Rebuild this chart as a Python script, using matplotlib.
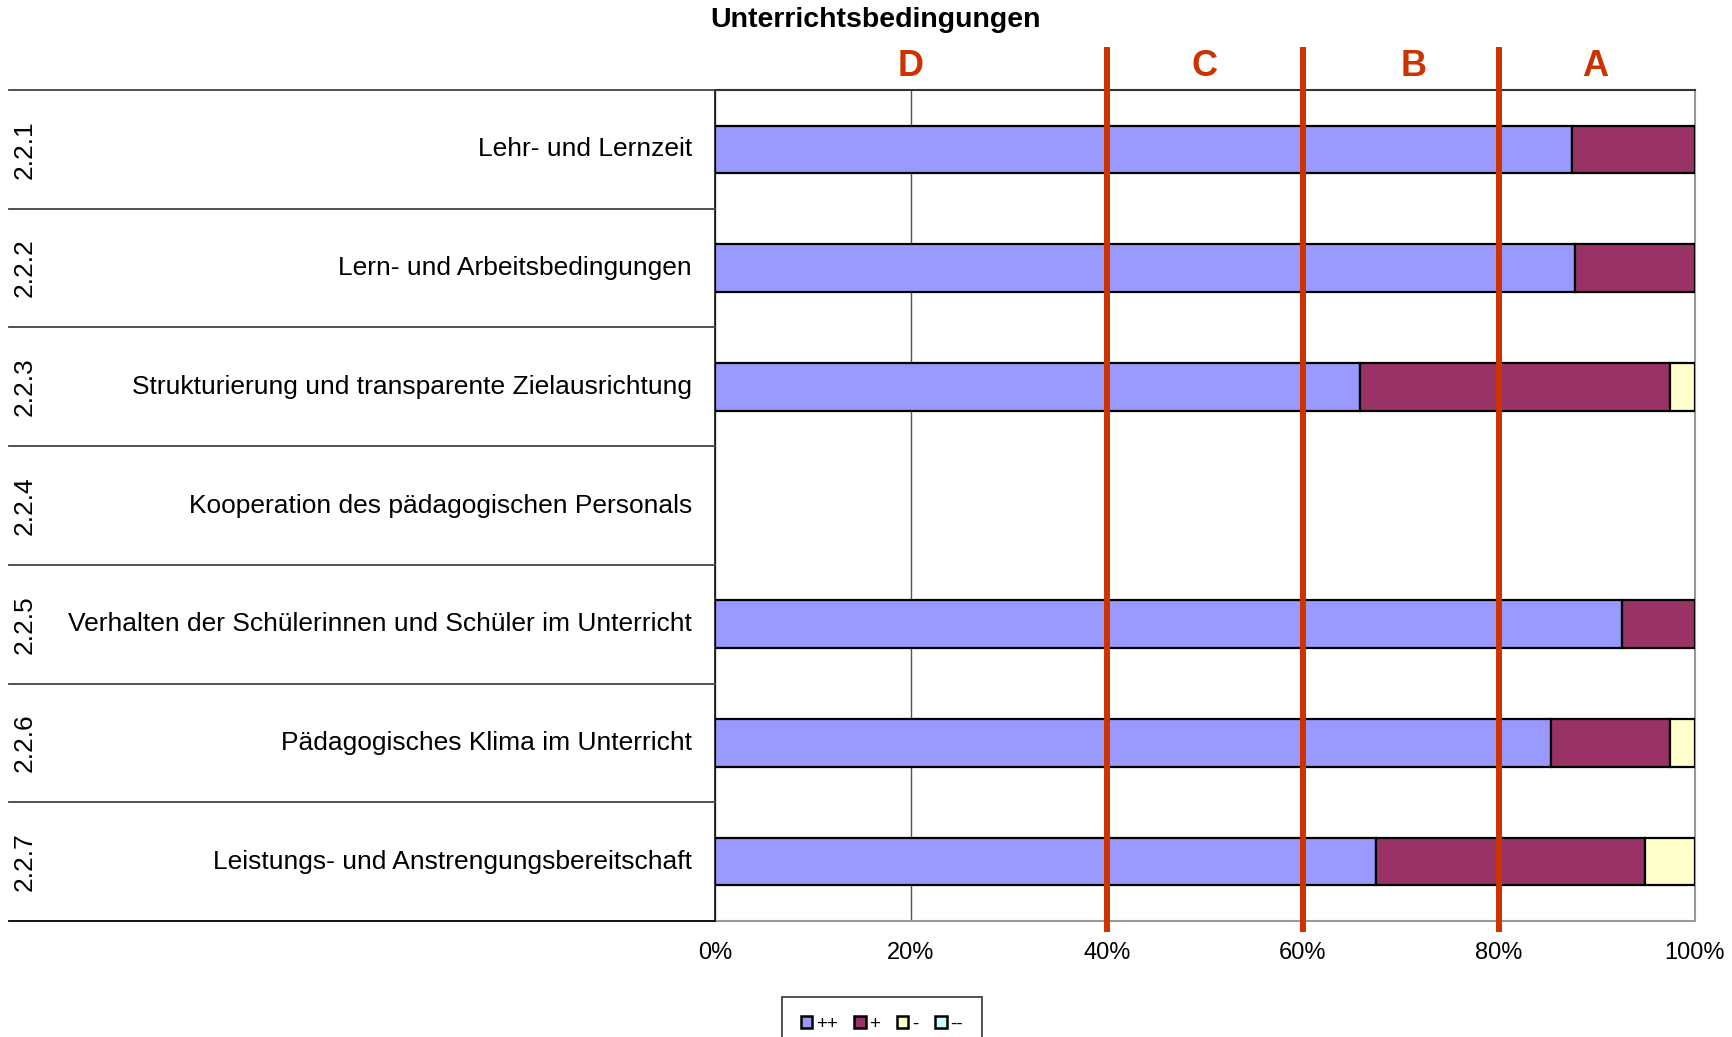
import matplotlib
matplotlib.use("Agg")
import matplotlib.pyplot as plt
import matplotlib.transforms as mtrans
from matplotlib.lines import Line2D
from matplotlib.patches import Patch
import numpy as np

plt.rcParams['font.family'] = ['Liberation Sans', 'DejaVu Sans']

codes = ["2.2.1", "2.2.2", "2.2.3", "2.2.4", "2.2.5", "2.2.6", "2.2.7"]
labels = ["Lehr- und Lernzeit",
          "Lern- und Arbeitsbedingungen",
          "Strukturierung und transparente Zielausrichtung",
          "Kooperation des pädagogischen Personals",
          "Verhalten der Schülerinnen und Schüler im Unterricht",
          "Pädagogisches Klima im Unterricht",
          "Leistungs- und Anstrengungsbereitschaft"]
series_names = ["++", "+", "-", "--"]
v_pp = [87.5, 87.8, 65.8, 0.0, 92.6, 85.3, 67.5]
v_p = [12.5, 12.2, 31.7, 0.0, 7.4, 12.2, 27.4]
v_m = [0.0, 0.0, 2.5, 0.0, 0.0, 2.5, 5.1]
v_mm = [0.0, 0.0, 0.0, 0.0, 0.0, 0.0, 0.0]
colors = ["#9999FF", "#993366", "#FFFFCC", "#CCFFFF"]
ticks = [0, 20, 40, 60, 80, 100]
tick_labels = ["0%", "20%", "40%", "60%", "80%", "100%"]
zone_bounds = [40, 60, 80]
zone_letters = ["D", "C", "B", "A"]
zone_letter_x = [20, 50, 71.3, 89.8]
title = "Unterrichtsbedingungen"

W, H = 1733, 1037
fig = plt.figure(figsize=(W / 100, H / 100), dpi=100)
ax = fig.add_axes([715 / W, 1 - 921 / H, (1695 - 715) / W, (921 - 90) / H])

y = np.arange(len(labels))
left = np.zeros(len(labels))
for vals, c in zip([v_pp, v_p, v_m, v_mm], colors):
    vals = np.array(vals)
    mask = vals > 0
    ax.barh(y[mask], vals[mask], left=left[mask], height=0.4, color=c,
            edgecolor="black", linewidth=1.6, zorder=3)
    left += vals

ax.set_xlim(0, 100)
ax.set_ylim(len(labels) - 0.5, -0.5)
ax.set_xticks(ticks)
ax.set_xticklabels(tick_labels, fontsize=17)
ax.tick_params(axis="x", length=0, pad=15)
ax.set_yticks([])
ax.grid(axis="x", color="#555555", linewidth=1.0, zorder=0)
ax.grid(axis="y", visible=False)
for s in ["bottom", "right"]:
    ax.spines[s].set_color("#999999")
    ax.spines[s].set_linewidth(1.5)
ax.spines["top"].set_color("#333333")
ax.spines["top"].set_linewidth(1.5)
ax.spines["left"].set_color("#111111")
ax.spines["left"].set_linewidth(1.2)

# table-like left part
tr = mtrans.blended_transform_factory(fig.transFigure, ax.transData)
x0 = 9 / W
x1 = 715 / W
for b in np.arange(-0.5, len(labels) + 0.5, 1.0):
    col = "#444444" if b < len(labels) - 0.5 else "black"
    fig.add_artist(Line2D([x0, x1], [b, b], transform=tr, color=col, linewidth=1.3))
for i, (c, l) in enumerate(zip(codes, labels)):
    fig.text(25 / W, i, c, transform=tr, rotation=90, ha="center", va="center", fontsize=19)
    fig.text(692 / W, i, l, transform=tr, ha="right", va="center", fontsize=19)

# zone lines
trz = mtrans.blended_transform_factory(ax.transData, fig.transFigure)
for b in zone_bounds:
    fig.add_artist(Line2D([b, b], [1 - 50 / H, 1 - 929 / H], transform=trz,
                          color="#CC3300", linewidth=4.3, zorder=5))
for xl, t in zip(zone_letter_x, zone_letters):
    fig.text(xl, 1 - 66 / H, t, transform=trz, ha="center", va="center",
             fontsize=26, fontweight="bold", color="#CC3300")

fig.text(876 / W, 1 - 20 / H, title, ha="center", va="center", fontsize=20.5, fontweight="bold")

handles = [Patch(facecolor=c, edgecolor="black", linewidth=1.8) for c in colors]
leg = fig.legend(handles, series_names, loc="upper center", bbox_to_anchor=(882 / W, 1 - 997 / H),
                 ncol=4, fontsize=13.5, frameon=True, fancybox=False, edgecolor="black",
                 handlelength=0.6, handleheight=0.6, handletextpad=0.2, columnspacing=0.9,
                 borderpad=1.0, borderaxespad=0)
leg.get_frame().set_linewidth(1.2)

fig.savefig("out.png", dpi=100)
